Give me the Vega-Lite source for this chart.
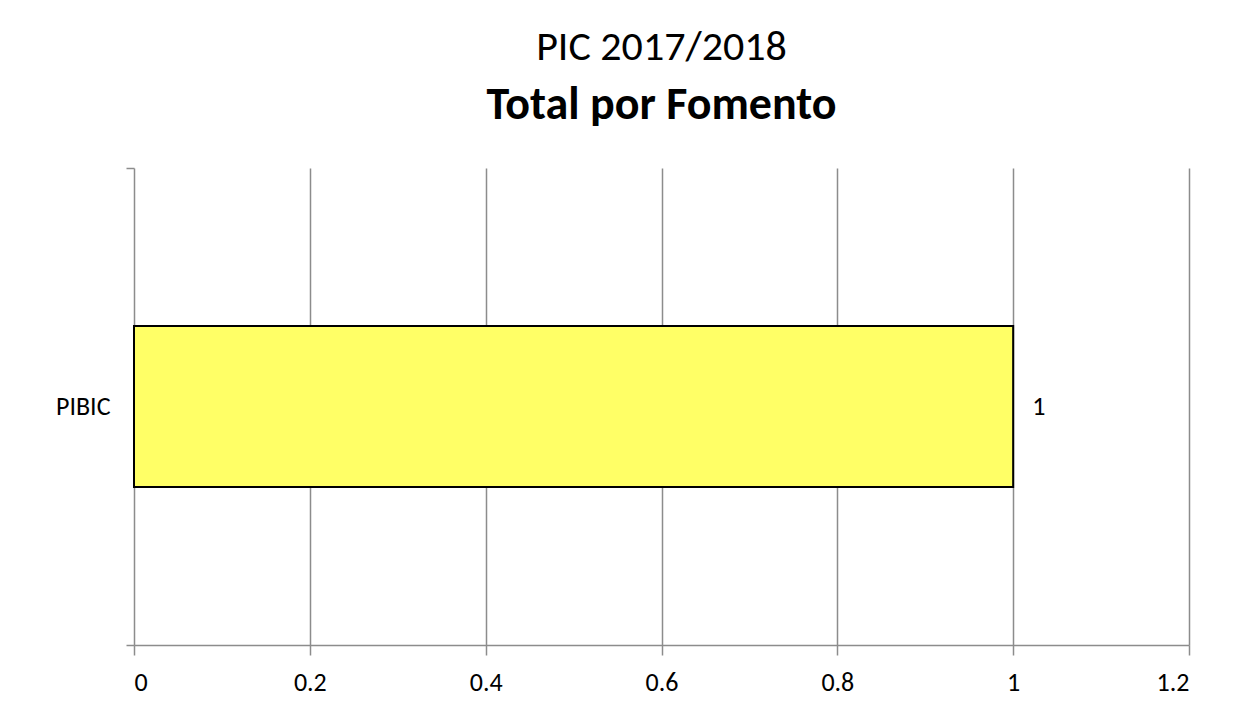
{
  "$schema": "https://vega.github.io/schema/vega-lite/v6.json",
  "autosize": {"type": "none"},
  "width": 1055,
  "height": 477,
  "padding": {"left": 134, "top": 168, "right": 58, "bottom": 77},
  "background": "white",
  "title": {
    "text": "PIC 2017/2018",
    "subtitle": "Total por Fomento",
    "anchor": "middle",
    "font": "Carlito, Open Sans",
    "fontSize": 42,
    "fontWeight": "normal",
    "color": "#000000",
    "subtitleFont": "Carlito, Open Sans",
    "subtitleFontSize": 46,
    "subtitleFontWeight": "bold",
    "subtitleColor": "#000000",
    "subtitlePadding": 14,
    "offset": 26
  },
  "data": {"values": [{"fomento": "PIBIC", "total": 1}]},
  "config": {
    "view": {"stroke": null},
    "axis": {
      "labelFont": "Carlito, Open Sans",
      "labelFontSize": 26,
      "labelColor": "#000000",
      "domainColor": "#8c8c8c",
      "domainWidth": 1.5,
      "tickColor": "#8c8c8c",
      "tickWidth": 1.5,
      "gridColor": "#8c8c8c",
      "gridWidth": 1.5
    }
  },
  "layer": [
    {
      "mark": {"type": "bar", "color": "#FFFF66", "stroke": "#000000", "strokeWidth": 2, "height": {"band": 0.3375}},
      "encoding": {
        "y": {
          "field": "fomento", "type": "nominal",
          "scale": {"paddingInner": 0, "paddingOuter": 0},
          "axis": {"title": null, "tickBand": "extent", "tickSize": 8, "labelPadding": 16, "grid": false, "domain": false}
        },
        "x": {
          "field": "total", "type": "quantitative",
          "scale": {"domain": [0, 1.2], "nice": false},
          "axis": {"title": null, "values": [0, 0.2, 0.4, 0.6, 0.8, 1, 1.2], "format": "~g", "tickSize": 10, "labelPadding": 14, "grid": true}
        }
      }
    },
    {
      "mark": {"type": "text", "align": "left", "baseline": "middle", "dx": 19, "font": "Carlito, Open Sans", "fontSize": 26, "color": "#000000"},
      "encoding": {
        "y": {"field": "fomento", "type": "nominal"},
        "x": {"field": "total", "type": "quantitative"},
        "text": {"field": "total", "type": "quantitative"}
      }
    }
  ]
}
